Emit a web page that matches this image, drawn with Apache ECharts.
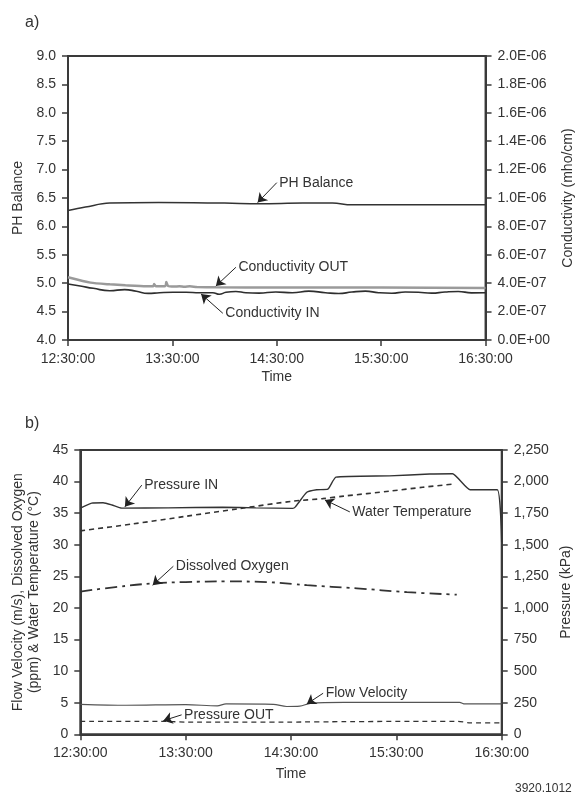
<!DOCTYPE html>
<html>
<head>
<meta charset="utf-8">
<script src="https://cdn.jsdelivr.net/npm/echarts@6/dist/echarts.min.js"></script>
<style>
  html, body { margin: 0; padding: 0; background: #fff; }
  #chart { width: 583px; height: 796px; }
</style>
</head>
<body>
<div id="chart"></div>
<script>
// minutes after 12:30:00
const timeLabels = ["12:30:00", "13:30:00", "14:30:00", "15:30:00", "16:30:00"];

// a) PH (left axis) and conductivity (right axis, mho/cm)
const phBalance = [[0, 6.28], [10, 6.34], [24, 6.41], [52, 6.42], [90, 6.41], [110, 6.40],
  [135, 6.41], [152, 6.41], [163, 6.38], [186, 6.38], [215, 6.38], [240, 6.38]];
const conductivityOut = [[0, 4.42e-7], [13, 4.04e-7], [24, 3.92e-7], [33, 3.85e-7], [45, 3.78e-7],
  [49, 3.78e-7], [49.5, 3.94e-7], [50.5, 3.78e-7], [56, 3.80e-7], [56.5, 4.08e-7], [57.5, 3.80e-7],
  [61, 3.76e-7], [64, 3.79e-7], [67, 3.75e-7], [70, 3.78e-7], [74, 3.74e-7], [85, 3.71e-7],
  [120, 3.69e-7], [180, 3.69e-7], [240, 3.66e-7]];
const conductivityIn = [[0, 3.94e-7], [7, 3.80e-7], [14.5, 3.64e-7], [24, 3.47e-7], [32.6, 3.55e-7],
  [39.3, 3.43e-7], [46, 3.28e-7], [52.6, 3.33e-7], [60.3, 3.36e-7], [67.9, 3.36e-7], [75.5, 3.33e-7],
  [83.2, 3.33e-7], [87, 3.22e-7], [90.8, 3.36e-7], [96.5, 3.42e-7], [102.2, 3.33e-7], [109.8, 3.30e-7],
  [119.4, 3.38e-7], [128.9, 3.33e-7], [138.4, 3.44e-7], [148, 3.33e-7], [155.6, 3.27e-7],
  [163.2, 3.38e-7], [170.9, 3.44e-7], [178.5, 3.33e-7], [186.1, 3.29e-7], [193.8, 3.38e-7],
  [201.4, 3.36e-7], [209, 3.30e-7], [216.7, 3.38e-7], [224.3, 3.42e-7], [231.9, 3.32e-7], [240, 3.33e-7]];

// b) left axis: m/s, ppm, °C ; right axis: kPa
const pressureIn = [[0, 1790], [6.5, 1830], [13, 1832], [18, 1815], [23.6, 1790], [50, 1792],
  [81, 1797], [100, 1792], [121, 1788], [122.5, 1800], [129, 1915], [134.6, 1935], [141, 1940],
  [145.6, 2035], [176, 2045], [199, 2060], [212, 2062], [222, 1935], [237.5, 1935], [240, 1520]];
const waterTemperature = [[0, 32.2], [30, 33.3], [60, 34.5], [90, 35.7], [121, 36.9], [138, 37.3],
  [150, 37.7], [176.5, 38.5], [195, 39.1], [212.5, 39.6]];
const dissolvedOxygen = [[0, 22.6], [20, 23.3], [41.7, 23.9], [60, 24.1], [83.5, 24.2], [106, 24.1],
  [121, 23.8], [129, 23.6], [157.5, 23.1], [186, 22.5], [214.4, 22.1]];
const flowVelocity = [[0, 4.75], [26, 4.6], [60, 4.7], [78, 4.5], [83, 4.8], [110, 4.75], [117.5, 4.4],
  [125, 4.45], [131, 4.9], [150, 5.05], [216, 5.05], [219, 4.8], [240, 4.8]];
const pressureOut = [[0, 103], [45, 103], [60, 97], [120, 97], [150, 100], [200, 103], [215, 103],
  [222, 90], [240, 90]];

// callouts: [text, arrow start (text side), arrow end (on the line)]
const notesA = {
  ph: ["PH Balance", [120, 6.77], [109, 6.42]],
  out: ["Conductivity OUT", [96.5, 5.12e-7], [85, 3.8e-7]],
  inn: ["Conductivity IN", [89, 1.88e-7], [76.5, 3.24e-7]]
};
const notesB = {
  pin: ["Pressure IN", [35, 1972], [25.4, 1800]],
  wt: ["Water Temperature", [153.5, 35.2], [139.3, 37.1]],
  dox: ["Dissolved Oxygen", [53, 26.6], [41.2, 23.6]],
  fv: ["Flow Velocity", [138.3, 6.5], [129, 4.8]],
  pout: ["Pressure OUT", [57.7, 154], [47.3, 108]]
};

const FONT = "Liberation Sans";
const INK = "#333";
const AXIS = "#3a3a3a";

function sci(v) {
  const s = v.toExponential(1).split("e");
  let e = parseInt(s[1], 10);
  const sign = e < 0 ? "-" : "+";
  e = Math.abs(e);
  return s[0] + "E" + sign + (e < 10 ? "0" + e : "" + e);
}
function comma(v) {
  return Math.round(v).toString().replace(/\B(?=(\d{3})+(?!\d))/g, ",");
}
function callout(n) {
  return {
    markLine: {
      silent: true, animation: false, symbol: ["none", "arrow"], symbolSize: 9,
      lineStyle: { color: "#222", width: 1, type: "solid" },
      label: { show: false },
      data: [[{ coord: n[1] }, { coord: n[2] }]]
    },
    markPoint: {
      silent: true, animation: false, symbol: "circle", symbolSize: 1,
      itemStyle: { color: "rgba(0,0,0,0)" },
      label: { show: true, position: "right", distance: 2, color: INK, fontSize: 14, fontFamily: FONT, formatter: n[0] },
      data: [{ coord: n[1] }]
    }
  };
}
function line(name, data, xi, yi, style, extra) {
  return Object.assign({
    name: name, type: "line", xAxisIndex: xi, yAxisIndex: yi, data: data,
    showSymbol: false, symbol: "none", animation: false, lineStyle: style
  }, extra || {});
}

const axisCommon = {
  axisLine: { show: true, lineStyle: { color: AXIS, width: 2 } },
  axisTick: { show: true, length: 6, lineStyle: { color: AXIS, width: 1.5 } },
  splitLine: { show: false },
  axisLabel: { color: INK, fontSize: 14, fontFamily: FONT, margin: 12 },
  nameTextStyle: { color: INK, fontSize: 14, fontFamily: FONT }
};
function ax(o) {
  return Object.assign({}, JSON.parse(JSON.stringify(axisCommon)), o);
}
function xAx(gridIndex, gap) {
  const a = ax({
    type: "value", gridIndex: gridIndex, min: 0, max: 240, interval: 60,
    name: "Time", nameLocation: "middle", nameGap: gap
  });
  a.axisLabel.formatter = (v) => timeLabels[Math.round(v / 60)];
  return a;
}

const chart = echarts.init(document.getElementById("chart"), null, { renderer: "canvas" });

const yPh = ax({ type: "value", gridIndex: 0, position: "left", min: 4, max: 9, interval: 0.5,
  name: "PH Balance", nameLocation: "middle", nameGap: 39, nameRotate: 90 });
yPh.axisLabel.formatter = (v) => v.toFixed(1);
const yCond = ax({ type: "value", gridIndex: 0, position: "right", min: 0, max: 2e-6, interval: 2e-7,
  name: "Conductivity (mho/cm)", nameLocation: "middle", nameGap: 70, nameRotate: 90 });
yCond.axisLabel.formatter = sci;
const yLeftB = ax({ type: "value", gridIndex: 1, position: "left", min: 0, max: 45, interval: 5,
  name: "Flow Velocity (m/s), Dissolved Oxygen\n(ppm) & Water Temperature (°C)",
  nameLocation: "middle", nameGap: 28, nameRotate: 90 });
yLeftB.nameTextStyle.lineHeight = 16;
const yRightB = ax({ type: "value", gridIndex: 1, position: "right", min: 0, max: 2250, interval: 250,
  name: "Pressure (kPa)", nameLocation: "middle", nameGap: 57, nameRotate: 90 });
yRightB.axisLabel.formatter = comma;

const solid = (w, c) => ({ color: c || INK, width: w, type: "solid" });

chart.setOption({
  backgroundColor: "#fff",
  textStyle: { fontFamily: FONT },
  title: [
    { text: "a)", left: 20, top: 10, textStyle: { fontSize: 16, fontWeight: "normal", color: INK, fontFamily: FONT } },
    { text: "b)", left: 20, top: 411, textStyle: { fontSize: 16, fontWeight: "normal", color: INK, fontFamily: FONT } },
    { text: "3920.1012", left: 510, top: 778, textStyle: { fontSize: 12, fontWeight: "normal", color: INK, fontFamily: FONT } }
  ],
  grid: [
    { left: 68, right: 95.5, top: 56, height: 284, show: true, borderColor: AXIS, borderWidth: 2, backgroundColor: "transparent" },
    { left: 80.3, right: 81.3, top: 450, height: 284.3, show: true, borderColor: AXIS, borderWidth: 2, backgroundColor: "transparent" }
  ],
  xAxis: [xAx(0, 30), xAx(1, 33)],
  yAxis: [yPh, yCond, yLeftB, yRightB],
  series: [
    line("PH Balance", phBalance, 0, 0, solid(1.5), Object.assign({ smooth: 0.4, z: 3 }, callout(notesA.ph))),
    line("Conductivity OUT", conductivityOut, 0, 1, solid(2.5, "#9a9a9a"), Object.assign({ smooth: 0.2, z: 2 }, callout(notesA.out))),
    line("Conductivity IN", conductivityIn, 0, 1, solid(1.6, "#2e2e2e"), Object.assign({ smooth: 0.5, z: 3 }, callout(notesA.inn))),
    line("Pressure IN", pressureIn, 1, 3, solid(1.4), Object.assign({ smooth: 0.15 }, callout(notesB.pin))),
    line("Water Temperature", waterTemperature, 1, 2, { color: INK, width: 1.6, type: [5, 4] }, Object.assign({ smooth: 0.3 }, callout(notesB.wt))),
    line("Dissolved Oxygen", dissolvedOxygen, 1, 2, { color: INK, width: 1.8, type: [12, 5, 3, 5] }, Object.assign({ smooth: 0.4 }, callout(notesB.dox))),
    line("Flow Velocity", flowVelocity, 1, 2, solid(1.2, "#555"), Object.assign({ smooth: 0.3 }, callout(notesB.fv))),
    line("Pressure OUT", pressureOut, 1, 3, { color: INK, width: 1.3, type: [5, 4] }, Object.assign({ smooth: 0.2 }, callout(notesB.pout)))
  ]
});
</script>
</body>
</html>
